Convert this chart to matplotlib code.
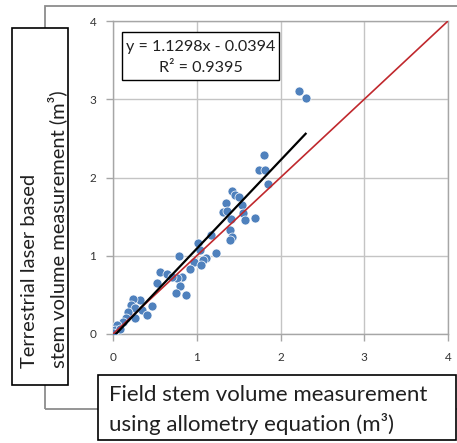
import matplotlib
matplotlib.use("Agg")
import matplotlib.pyplot as plt
from matplotlib.patches import Rectangle

W, H = 457, 443

# field (allometry) vs terrestrial laser stem volume, m3
field_vol = [2.215, 2.30, 1.80, 1.745, 1.82, 1.855, 1.42, 1.46, 1.51, 1.35,
             1.545, 1.31, 1.36, 1.55, 1.41, 1.58, 1.70, 1.40, 1.42, 1.40,
             1.17, 1.01, 1.04, 1.23, 1.11, 1.08, 0.97, 1.05, 0.79, 0.92,
             0.82, 0.76, 0.80, 0.75, 0.87, 0.56, 0.64, 0.52, 0.70, 0.47,
             0.32, 0.235, 0.21, 0.26, 0.35, 0.40, 0.18, 0.26, 0.16, 0.12,
             0.045, 0.02, 0.005, 0.085]
tls_vol = [3.11, 3.01, 2.29, 2.09, 2.09, 1.92, 1.83, 1.78, 1.755, 1.67,
           1.65, 1.555, 1.576, 1.54, 1.47, 1.457, 1.48, 1.33, 1.245, 1.20,
           1.27, 1.16, 1.07, 1.04, 0.967, 0.946, 0.924, 0.88, 0.997, 0.826,
           0.733, 0.711, 0.613, 0.52, 0.50, 0.797, 0.767, 0.647, 0.733, 0.358,
           0.434, 0.447, 0.37, 0.328, 0.307, 0.243, 0.285, 0.20, 0.20, 0.158,
           0.115, 0.05, 0.01, 0.07]

slope, intercept = 1.1298, -0.0394
r2 = 0.9395
fit_x = [0.03, 2.3]
one_to_one = [0, 4]
ticks = [0, 1, 2, 3, 4]

plt.rcParams['font.family'] = ['Lato', 'DejaVu Sans']

fig = plt.figure(figsize=(W / 100, H / 100), dpi=100)


def px_box(x0, y0, x1, y1, **kw):
    # rectangle given in pixel coords (origin top-left)
    r = Rectangle((x0 / W, 1 - y1 / H), (x1 - x0) / W, (y1 - y0) / H,
                  transform=fig.transFigure, **kw)
    fig.patches.append(r)
    return r


# grey outer frame behind everything
px_box(45, 6, 470, 409, facecolor='none', edgecolor='#8c8c8c', lw=1.3, zorder=0)

ax = fig.add_axes([113 / W, 1 - 334 / H, 335 / W, 313 / H])
ax.set_xlim(0, 4)
ax.set_ylim(0, 4)
ax.set_xticks(ticks)
ax.set_yticks(ticks)
ax.grid(True, color='#c4c4c4', lw=1.0)
ax.set_axisbelow(True)
for s in ax.spines.values():
    s.set_color('#a6a6a6')
    s.set_linewidth(1.0)
ax.tick_params(colors='#a6a6a6', labelcolor='#333333', labelsize=8.5, length=5, width=1)
ax.tick_params(axis='x', pad=8)
ax.tick_params(axis='y', pad=7)

ax.scatter(field_vol, tls_vol, s=42, color='#4f81bd', edgecolor='white',
           linewidths=0.5, zorder=3)
ax.plot(one_to_one, one_to_one, color='#c0282d', lw=1.2, zorder=4)
ax.plot(fit_x, [slope * x + intercept for x in fit_x], color='black', lw=1.6, zorder=5)

# equation box
px_box(122, 32, 279, 80, facecolor='white', edgecolor='black', lw=1.0, zorder=6)
fig.text(200.5 / W, 1 - 47 / H, f"y = {slope}x - {abs(intercept)}", ha='center', va='center',
         fontsize=11.6, color='#202020', zorder=7)
fig.text(200.5 / W, 1 - 68 / H, f"R² = {r2}", ha='center', va='center',
         fontsize=11.6, color='#202020', zorder=7)

# y label box
px_box(12, 28, 68, 385, facecolor='white', edgecolor='black', lw=1.2, zorder=6)
fig.text(30 / W, 1 - 368 / H, "Terrestrial laser based", rotation=90,
         ha='center', va='bottom', fontsize=14.5, color='#202020', zorder=7)
fig.text(57 / W, 1 - 368 / H, "stem volume measurement (m³)", rotation=90,
         ha='center', va='bottom', fontsize=14.5, color='#202020', zorder=7)

# x label box
px_box(98, 375, 456, 440, facecolor='white', edgecolor='black', lw=1.2, zorder=6)
fig.text(109 / W, 1 - 395 / H, "Field stem volume measurement",
         ha='left', va='center', fontsize=16, color='#202020', zorder=7)
fig.text(109 / W, 1 - 424 / H, "using allometry equation (m³)",
         ha='left', va='center', fontsize=16, color='#202020', zorder=7)

fig.savefig("out.png", dpi=100)
